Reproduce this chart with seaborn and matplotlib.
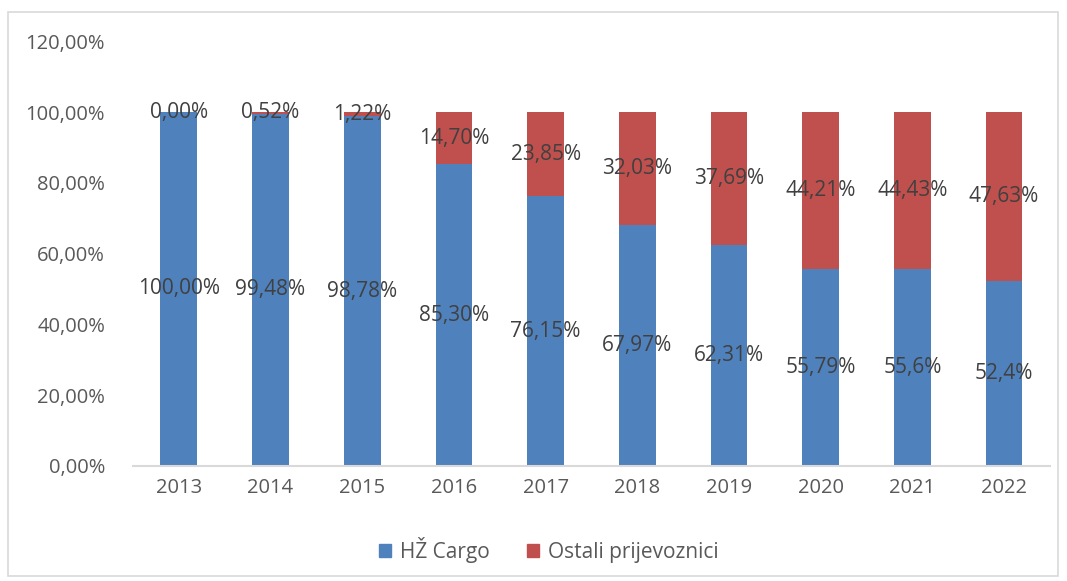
import matplotlib
matplotlib.use("Agg")
import matplotlib.pyplot as plt
import matplotlib.patches as mpatches
import seaborn as sns
import pandas as pd

years = ["2013", "2014", "2015", "2016", "2017", "2018", "2019", "2020", "2021", "2022"]
hz_cargo = [100.00, 99.48, 98.78, 85.30, 76.15, 67.97, 62.31, 55.79, 55.6, 52.4]
ostali = [0.00, 0.52, 1.22, 14.70, 23.85, 32.03, 37.69, 44.21, 44.43, 47.63]
hz_labels = ["100,00%", "99,48%", "98,78%", "85,30%", "76,15%", "67,97%", "62,31%", "55,79%", "55,6%", "52,4%"]
ostali_labels = ["0,00%", "0,52%", "1,22%", "14,70%", "23,85%", "32,03%", "37,69%", "44,21%", "44,43%", "47,63%"]
series_names = ["HŽ Cargo", "Ostali prijevoznici"]
y_ticks = [0, 20, 40, 60, 80, 100, 120]

BLUE = "#4F81BD"
RED = "#C0504D"
TXT = "#404040"
TICK = "#595959"

sns.set_theme(style="white")
plt.rcParams['font.family'] = ['Open Sans', 'DejaVu Sans']

df = pd.DataFrame({"year": years, "hz": hz_cargo, "ostali": ostali})
df["total"] = df["hz"] + df["ostali"]

fig = plt.figure(figsize=(10.67, 5.81), dpi=100)
ax = fig.add_axes([0.1246, 0.198, 0.984 - 0.1246, 0.929 - 0.198])

sns.barplot(data=df, x="year", y="total", color=RED, width=0.4, saturation=1, linewidth=0, ax=ax)
sns.barplot(data=df, x="year", y="hz", color=BLUE, width=0.4, saturation=1, linewidth=0, ax=ax)

for i in range(len(years)):
    ax.text(i, hz_cargo[i] / 2, hz_labels[i], ha="center", va="center", fontsize=15, color=TXT)
    ax.text(i, hz_cargo[i] + ostali[i] / 2, ostali_labels[i], ha="center", va="center", fontsize=15, color=TXT)

ax.set_xlim(-0.5, len(years) - 0.5)
ax.set_ylim(0, 120)
ax.set_yticks(y_ticks)
ax.set_yticklabels([f"{v:.2f}%".replace(".", ",") for v in y_ticks], fontsize=14.5, color=TICK)
ax.tick_params(axis="x", labelsize=14.5, colors=TICK, pad=9, length=0)
ax.tick_params(axis="y", pad=20, length=0)
ax.set_xlabel("")
ax.set_ylabel("")
for s in ["top", "right", "left"]:
    ax.spines[s].set_visible(False)
ax.spines["bottom"].set_color("#D9D9D9")
ax.spines["bottom"].set_linewidth(1.5)

handles = [mpatches.Patch(color=BLUE, label=series_names[0]),
           mpatches.Patch(color=RED, label=series_names[1])]
fig.legend(handles=handles, loc="center", bbox_to_anchor=(0.514, 0.053), ncol=2, frameon=False,
           fontsize=15, labelcolor=TICK, handlelength=0.6, handleheight=0.6, handletextpad=0.4,
           columnspacing=1.8)

fig.patches.append(mpatches.Rectangle((8 / 1067, 1 - 576 / 581), (1058 - 8) / 1067, (576 - 12) / 581,
                                      transform=fig.transFigure, fill=False, edgecolor="#D9D9D9",
                                      linewidth=1.2))

fig.savefig("out.png", dpi=100)
